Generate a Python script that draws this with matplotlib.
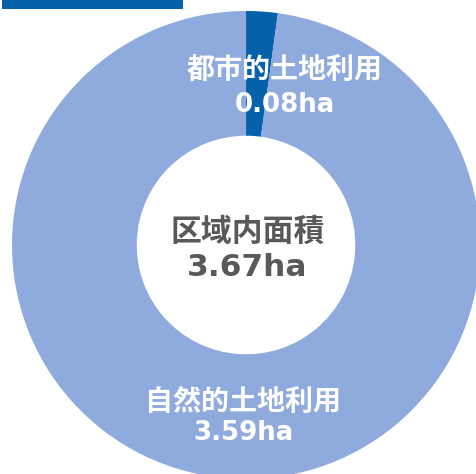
import matplotlib.pyplot as plt
from matplotlib.patches import Rectangle

plt.rcParams['font.family'] = ['Noto Sans CJK JP', 'DejaVu Sans']

labels = ['都市的土地利用', '自然的土地利用']
areas = [0.08, 3.59]
total_label = '区域内面積'
colors = ['#0562AA', '#8FAADC']

fig = plt.figure(figsize=(4.77, 4.74), dpi=100)
ax = fig.add_axes([0, 0, 1, 1])

ax.pie(areas, colors=colors, startangle=90, counterclock=False, radius=1,
       wedgeprops=dict(width=1 - 0.467, linewidth=0))

num_font = ['DejaVu Sans', 'Noto Sans CJK JP']

# slice labels, white bold
ax.text(0.167, 0.748, labels[0], color='white', fontsize=20.2, fontweight='bold', ha='center', va='center')
ax.text(0.167, 0.598, f'{areas[0]:.2f}ha', color='white', fontsize=18.7, fontweight='bold',
        ha='center', va='center', family=num_font)
ax.text(-0.011, -0.671, labels[1], color='white', fontsize=20.2, fontweight='bold', ha='center', va='center')
ax.text(-0.011, -0.803, f'{areas[1]:.2f}ha', color='white', fontsize=18.7, fontweight='bold',
        ha='center', va='center', family=num_font)

# total in the hole
ax.text(0.006, 0.056, total_label, color='#595959', fontsize=22.2, fontweight='bold', ha='center', va='center')
ax.text(0.006, -0.098, f'{sum(areas):.2f}ha', color='#595959', fontsize=22.5, fontweight='bold',
        ha='center', va='center', family=num_font)

ax.set_xlim(-1.0513, 0.987)
ax.set_ylim(-0.9786, 1.047)
ax.set_aspect('auto')
ax.axis('off')

# accent bar top-left (x 2..183 px, y 0..9 px)
bar = Rectangle((2 / 477, 1 - 9 / 474), 181 / 477, 9 / 474,
                transform=fig.transFigure, facecolor='#0562AA', lw=0, zorder=5)
fig.patches.append(bar)

fig.savefig('out.png', dpi=100)
